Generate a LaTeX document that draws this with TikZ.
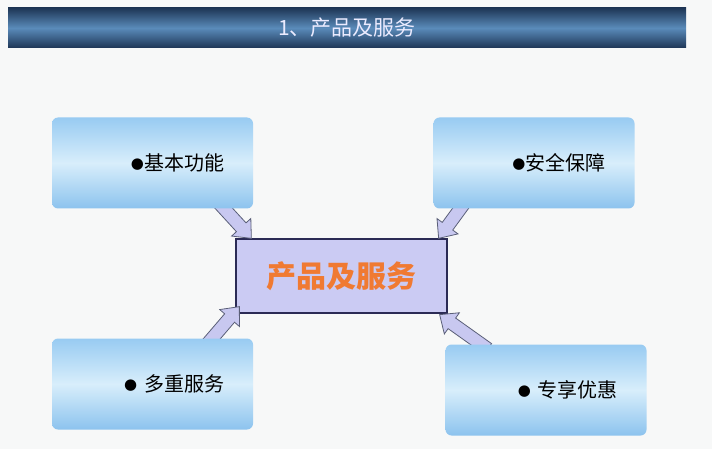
\documentclass[tikz,border=0pt]{standalone}
\usepackage{fontspec}
\usepackage{xcolor}
\usetikzlibrary{calc}
\newfontfamily\cjk{Noto Sans CJK SC}
\newfontfamily\symfont{DejaVu Sans}
\definecolor{bgcol}{HTML}{F7F8F8}
\definecolor{bardark}{HTML}{1E3656}
\definecolor{barlight}{HTML}{5A8BBA}
\definecolor{boxtop}{HTML}{98CBF2}
\definecolor{boxmid}{HTML}{D8EEFB}
\definecolor{boxbot}{HTML}{8CC3EE}
\definecolor{lavender}{HTML}{CBCBF3}
\definecolor{navy}{HTML}{2B2B55}
\definecolor{arrfill}{HTML}{C8C8F0}
\definecolor{arrline}{HTML}{5A5F78}
\definecolor{prodorange}{HTML}{F07A32}
\pgfdeclarelayer{back}
\pgfdeclarelayer{mid}
\pgfsetlayers{back,mid,main}
\newcommand{\bul}{\raisebox{2.5pt}{\symfont\fontsize{15}{15}\selectfont ●}}
% fat hollow arrow from #1 to #2
\newcommand{\fatarrow}[2]{%
  \coordinate (fs) at ($(#1)!-8pt!(#2)$);
  \coordinate (fh) at ($(#2)!15pt!(#1)$);
  \draw[fatarr] ($(fs)!6.5pt!90:(#2)$) -- ($(fh)!6.5pt!-90:(fs)$) -- ($(fh)!13pt!-90:(fs)$)
    -- (#2) -- ($(fh)!13pt!90:(fs)$) -- ($(fh)!6.5pt!90:(fs)$) -- ($(fs)!6.5pt!-90:(#2)$) -- cycle;}

\begin{document}
\begin{tikzpicture}[x=1pt, y=-1pt,
  titlebar/.style={minimum width=678pt, minimum height=40pt, inner sep=0pt,
    top color=bardark, bottom color=bardark, middle color=barlight,
    text=white!92!blue, font=\cjk\fontsize{21}{21}\selectfont},
  itembox/.style={rounded corners=6pt, minimum width=201pt, minimum height=91pt,
    inner xsep=29pt, text width=143pt, align=right,
    top color=boxtop, bottom color=boxbot, middle color=boxmid,
    font=\cjk\fontsize{20}{20}\selectfont},
  prodbox/.style={draw=navy, line width=1.3pt, fill=lavender, minimum width=211pt,
    minimum height=74pt, text=prodorange, font=\cjk\bfseries\fontsize{30}{30}\selectfont},
  fatarr/.style={fill=arrfill, draw=arrline, line width=0.8pt, line join=miter}]

 \begin{pgfonlayer}{back}
  \fill[bgcol] (0,0) rectangle (712,449);
  \node[titlebar] (title) at (347,28) {1、产品及服务};
  \node[prodbox] (cp) at (341.5,276) {产品及服务};
 \end{pgfonlayer}
 \useasboundingbox (0,0) rectangle (712,449);

 \node[itembox] (jb) at (152.5,163) {\bul 基本功能};
 \node[itembox] (aq) at (534,163) {\bul 安全保障};
 \node[itembox] (dc) at (152.5,384) {\bul\ 多重服务};
 \node[itembox] (zx) at (546,390) {\bul\ 专享优惠};

 \coordinate (s1) at ($(jb.south east)+(-29,0)$);
 \coordinate (t1) at ($(cp.north west)+(16,0)$);
 \coordinate (s2) at ($(aq.south west)+(27,0)$);
 \coordinate (t2) at ($(cp.north east)+(-9,0)$);
 \coordinate (s3) at ($(dc.north east)+(-41,0)$);
 \coordinate (t3) at ($(cp.south west)+(4,-7)$);
 \coordinate (s4) at ($(zx.north west)+(36,0)$);
 \coordinate (t4) at ($(cp.south east)+(-8,1)$);

 \begin{pgfonlayer}{mid}
  \fatarrow{s1}{t1}
  \fatarrow{s2}{t2}
  \fatarrow{s3}{t3}
  \fatarrow{s4}{t4}
 \end{pgfonlayer}
\end{tikzpicture}
\end{document}
